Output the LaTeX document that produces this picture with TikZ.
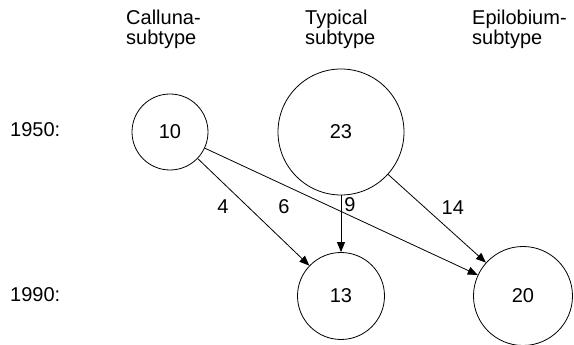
\documentclass[tikz,border=0pt]{standalone}
\usepackage{fontspec}
\setmainfont{Liberation Sans}
\usetikzlibrary{arrows.meta}
\begin{document}
\begin{tikzpicture}[x=1pt,y=1pt,
  every node/.style={font=\fontsize{20}{20}\selectfont},
  stand/.style={circle,draw,line width=0.8pt,inner sep=0pt},
  flow/.style={line width=0.8pt,-{Triangle[length=10pt,width=8pt]}},
  head/.style={anchor=north west,align=left,inner sep=0pt}]
\useasboundingbox (0,0) rectangle (574,345);
\node[head] (hcall) at (126,335) {Calluna-\\subtype};
\node[head] (htyp) at (305,335) {Typical\\subtype};
\node[head] (hepi) at (472,335) {Epilobium-\\subtype};
\node[anchor=base west,inner sep=0pt] (y1950) at (10,208) {1950:};
\node[anchor=base west,inner sep=0pt] (y1990) at (10,43) {1990:};

\node[stand,minimum size=76pt] (c10) at (170,213) {10};
\node[stand,minimum size=126pt] (c23) at (341,213) {23};
\node[stand,minimum size=87pt] (c13) at (341,49) {13};
\node[stand,minimum size=99pt] (c20) at (523,49) {20};

\draw[flow] (c10) -- node[pos=0.45,xshift=-25pt] {4} (c13);
\draw[flow] (c10) -- node[pos=0.29,yshift=-22pt] {6} (c20);
\draw[flow] (c23) -- node[pos=0.17,xshift=9pt] {9} (c13);
\draw[flow] (c23) -- node[pos=0.375,xshift=28pt] {14} (c20);
\end{tikzpicture}
\end{document}
